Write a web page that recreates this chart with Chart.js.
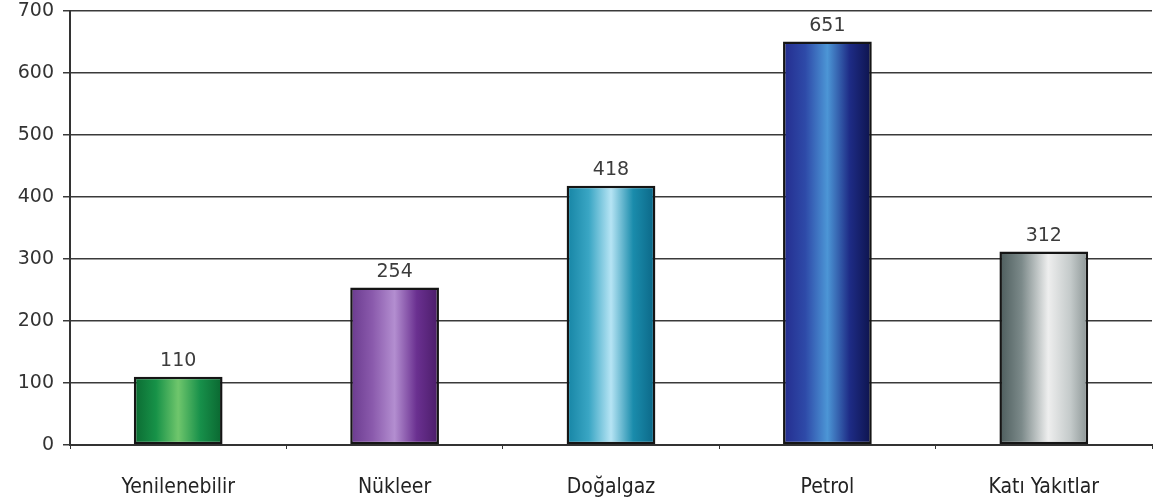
<!DOCTYPE html>
<html>
<head>
<meta charset="utf-8">
<script src="https://cdn.jsdelivr.net/npm/chart.js@4/dist/chart.umd.min.js"></script>
<style>
  html, body { margin: 0; padding: 0; background: #fff; }
  #wrap { width: 1157px; height: 504px; }
</style>
</head>
<body>
<div id="wrap"><canvas id="energyChart" width="1157" height="504"></canvas></div>
<script>
// energy sources and their values
const sources = ['Yenilenebilir', 'Nükleer', 'Doğalgaz', 'Petrol', 'Katı Yakıtlar'];
const amounts = [110, 254, 418, 651, 312];
const yTicks = [0, 100, 200, 300, 400, 500, 600, 700];

// cylinder-like shading for each bar, left to right
const shades = [
    [[0, '#0b6a32'], [0.25, '#179248'], [0.5, '#6fc66c'], [0.75, '#17904a'], [1, '#0a6630']],
    [[0, '#6a3a8e'], [0.25, '#8a5aac'], [0.5, '#b38ed0'], [0.75, '#6a3090'], [1, '#4a1c68']],
    [[0, '#1584a4'], [0.25, '#3aa6c4'], [0.5, '#b6e4f4'], [0.75, '#1a8cac'], [1, '#0b6686']],
    [[0, '#242c8e'], [0.25, '#2e4aa8'], [0.5, '#4c96d6'], [0.75, '#1e2c86'], [1, '#0d134c']],
    [[0, '#4c5c5c'], [0.25, '#7c8a8a'], [0.55, '#eeeeee'], [0.8, '#c4caca'], [1, '#8a9494']]
];

// paints each bar with a horizontal gradient across its width
const barShading = {
    id: 'barShading',
    beforeDatasetsDraw(chart) {
        const ctx = chart.ctx;
        chart.getDatasetMeta(0).data.forEach((bar, i) => {
            const left = bar.x - bar.width / 2;
            const grad = ctx.createLinearGradient(left, 0, left + bar.width, 0);
            shades[i].forEach(s => grad.addColorStop(s[0], s[1]));
            bar.options.backgroundColor = grad;
        });
    }
};

// value printed above each bar
const valueLabels = {
    id: 'valueLabels',
    afterDatasetsDraw(chart) {
        const ctx = chart.ctx;
        ctx.save();
        ctx.font = '19px "DejaVu Sans"';
        ctx.fillStyle = '#3c3c3c';
        ctx.textAlign = 'center';
        ctx.textBaseline = 'bottom';
        chart.getDatasetMeta(0).data.forEach((bar, i) => {
            ctx.fillText(String(amounts[i]), bar.x, bar.y - 6);
        });
        ctx.restore();
    }
};

new Chart(document.getElementById('energyChart'), {
    type: 'bar',
    data: {
        labels: sources,
        datasets: [{
            data: amounts,
            // scriptable so every bar keeps its own options object
            backgroundColor: () => '#888',
            borderColor: '#151515',
            borderWidth: 2.5,
            borderSkipped: false,
            barPercentage: 0.82,
            categoryPercentage: 0.5
        }]
    },
    options: {
        responsive: false,
        animation: false,
        layout: { padding: { top: 11, right: 5, left: 0, bottom: 0 } },
        plugins: {
            legend: { display: false },
            tooltip: { enabled: false }
        },
        scales: {
            x: {
                afterFit(scale) { scale.height = 59; },
                grid: {
                    offset: true,
                    drawOnChartArea: false,
                    color: '#333',
                    tickLength: 4
                },
                border: { color: '#333', width: 2 },
                ticks: {
                    color: '#222',
                    padding: 26,
                    font: { family: '"Liberation Sans Narrow", "DejaVu Sans Condensed", sans-serif', size: 21 }
                }
            },
            y: {
                min: 0,
                max: 700,
                afterFit(scale) {
                    scale.width = 70;
                    scale.paddingTop = 0;
                    scale.paddingBottom = 0;
                },
                afterBuildTicks(axis) {
                    axis.ticks = yTicks.map(v => ({ value: v }));
                },
                grid: {
                    color: '#3a3a3a',
                    lineWidth: 1.5,
                    tickLength: 7
                },
                border: { color: '#333', width: 2 },
                ticks: {
                    color: '#333',
                    padding: 9,
                    font: { family: '"DejaVu Sans"', size: 19 }
                }
            }
        }
    },
    plugins: [barShading, valueLabels]
});
</script>
</body>
</html>
